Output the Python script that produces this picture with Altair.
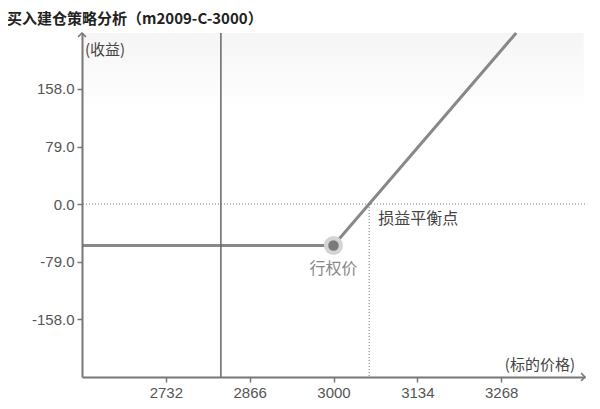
import altair as alt
import pandas as pd

# ---- data ----
title_text = "买入建仓策略分析（m2009-C-3000）"
x_ticks = [2732, 2866, 3000, 3134, 3268]
y_ticks = [-158.0, -79.0, 0.0, 79.0, 158.0]
x_domain = [2598, 3402]
y_domain = [-237.6, 234.9]
payoff_price = [2598, 3000, 3292]
payoff_value = [-57, -57, 235]
strike = [3000]
strike_value = [-57]
breakeven = [3057]
ref_price = [2820]
strike_label = ["行权价"]
breakeven_label = ["损益平衡点"]
y_title = ["(收益)"]
x_title = ["(标的价格)"]

W, H = 503, 344
CJK = "Noto Sans CJK SC"
LAT = "Liberation Sans"

xs = alt.Scale(domain=x_domain, nice=False, zero=False)
ys = alt.Scale(domain=y_domain, nice=False, zero=False)

payoff = pd.DataFrame({"price": payoff_price, "value": payoff_value})
pt = pd.DataFrame({"price": strike, "value": strike_value, "label": strike_label})
be = pd.DataFrame({"price": breakeven, "value": [0], "low": [y_domain[0]], "label": breakeven_label})
rp = pd.DataFrame({"price": ref_price})
zero = pd.DataFrame({"value": [0]})
band = pd.DataFrame({"price": [x_domain[0]], "x2": [x_domain[1] - 2], "value": [y_domain[1]], "y2": [128]})

x_axis = alt.Axis(values=x_ticks, format="d", title=None, grid=False, zindex=1,
                  domainColor="#777", domainWidth=2, tickColor="#777", tickWidth=1.5,
                  tickSize=5, labelPadding=3, labelColor="#555", labelFontSize=15,
                  labelFont=LAT)
y_axis = alt.Axis(values=y_ticks, title=None, grid=False, zindex=1,
                  domainColor="#777", domainWidth=2, tickColor="#777", tickWidth=1.5,
                  tickSize=5, labelPadding=3, labelColor="#555", labelFontSize=15,
                  labelFont=LAT, labelExpr="replace(format(datum.value, '.1f'), '\u2212', '-')")

X = lambda f="price:Q": alt.X(f, scale=xs, axis=x_axis)
Y = lambda f="value:Q": alt.Y(f, scale=ys, axis=y_axis)

bg = alt.Chart(band).mark_rect(
    color=alt.Gradient(gradient="linear",
                       stops=[alt.GradientStop(color="#f5f5f5", offset=0),
                              alt.GradientStop(color="#ffffff", offset=1)],
                       x1=0, x2=0, y1=0, y2=1)
).encode(x=X(), x2="x2:Q", y=Y(), y2="y2:Q")

line = alt.Chart(payoff).mark_line(color="#888", strokeWidth=3).encode(x=X(), y=Y())

zero_rule = alt.Chart(zero).mark_rule(color="#777", strokeDash=[1, 2], strokeWidth=1).encode(y=Y())

be_rule = alt.Chart(be).mark_rule(color="#777", strokeDash=[1, 2], strokeWidth=1).encode(
    x=X(), y=Y(), y2="low:Q")

ref_rule = alt.Chart(rp).mark_rule(color="#666", strokeWidth=1.5).encode(x=X())

halo = alt.Chart(pt).mark_circle(color="#d4d4d4", opacity=1, size=360).encode(x=X(), y=Y())
dot = alt.Chart(pt).mark_circle(color="#7a7a7a", opacity=1, size=110).encode(x=X(), y=Y())

strike_txt = alt.Chart(pt).mark_text(font=CJK, fontSize=16, color="#888", dy=23,
                                     align="center", baseline="middle").encode(
    x=X(), y=Y(), text="label:N")

be_txt = alt.Chart(be).mark_text(font=CJK, fontSize=16, color="#444", dx=9, dy=15,
                                 align="left", baseline="middle").encode(
    x=X(), y=Y(), text="label:N")

title = alt.Chart(pd.DataFrame({"t": [title_text]})).mark_text(
    font=CJK, fontSize=15, fontWeight="bold", color="#222", align="left", baseline="middle"
).encode(x=alt.value(-75), y=alt.value(-14), text="t:N")

ytitle = alt.Chart(pd.DataFrame({"t": y_title})).mark_text(
    font=CJK, fontSize=15, color="#444", align="left", baseline="middle"
).encode(x=alt.value(3), y=alt.value(17), text="t:N")

xtitle = alt.Chart(pd.DataFrame({"t": x_title})).mark_text(
    font=CJK, fontSize=15, color="#444", align="right", baseline="middle"
).encode(x=alt.value(W - 10), y=alt.value(H - 12), text="t:N")

x_arrow = alt.Chart(pd.DataFrame({"a": [1]})).mark_point(
    shape="M -1 -1 L 0 0 L -1 1", filled=False, color="#777", strokeWidth=1.5, size=60, opacity=1
).encode(x=alt.value(W), y=alt.value(H))

y_arrow = alt.Chart(pd.DataFrame({"a": [1]})).mark_point(
    shape="M -1 1 L 0 0 L 1 1", filled=False, color="#777", strokeWidth=1.5, size=60, opacity=1
).encode(x=alt.value(0), y=alt.value(0))

chart = alt.layer(
    bg, line, zero_rule, be_rule, ref_rule, halo, dot, strike_txt, be_txt,
    title, ytitle, xtitle, x_arrow, y_arrow
).properties(
    width=W, height=H,
    autosize=alt.AutoSizeParams(type="none"),
    padding={"left": 74, "top": 25, "right": 7, "bottom": 25},
    background="white",
).configure_view(stroke=None)

chart.save("out.html", embed_options={"renderer": "svg", "actions": False})
